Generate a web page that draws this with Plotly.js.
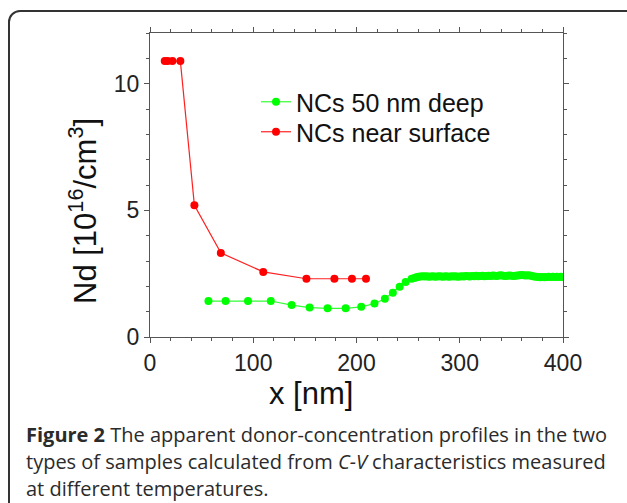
<!DOCTYPE html>
<html>
<head>
<meta charset="utf-8">
<script src="https://cdn.plot.ly/plotly-3.0.1.min.js"></script>
<style>
  html, body { margin:0; padding:0; background:#fff; overflow:hidden; width:627px; height:503px; }
  #frame { position:absolute; left:8px; top:10px; width:700px; height:600px;
           border:2px solid #333; border-radius:12px; pointer-events:none; }
  #chart { position:absolute; left:0; top:0; width:627px; height:503px; }
</style>
</head>
<body>
<div id="chart"></div>
<div id="frame"></div>
<script>
// NCs near surface
const xSurface = [14.3, 17.1, 21.7, 29.4, 43.0, 68.6, 109.7, 151.5, 178.6, 195.6, 209.2];
const ySurface = [10.89, 10.89, 10.89, 10.89, 5.20, 3.32, 2.57, 2.30, 2.30, 2.30, 2.30];

// NCs 50 nm deep
const xDeep = [56.6, 73.2, 94.9, 117.0, 137.2, 154.6, 172.0, 189.5, 204.6, 217.4, 227.5, 235.2, 241.8, 247.6, 253.4,
  256, 258, 260, 262, 264, 266, 268, 270,
  272, 274, 276, 278, 280, 282, 284, 286, 288, 290, 292, 294, 296, 298, 300,
  302, 304, 306, 308, 310, 312, 314, 316, 318, 320, 322, 324, 326, 328, 330, 332, 334, 336, 338, 340,
  342, 344, 346, 348, 350, 352, 354, 356, 358, 360, 362, 364, 366, 368, 370,
  372, 374, 376, 378, 380, 382, 384, 386, 388, 390, 392, 394, 396, 398, 400];
const yDeep = [1.42, 1.42, 1.42, 1.42, 1.26, 1.16, 1.13, 1.13, 1.19, 1.32, 1.51, 1.75, 1.98, 2.17, 2.30,
  2.33, 2.36, 2.38, 2.39, 2.40, 2.39, 2.40, 2.38,
  2.39, 2.40, 2.38, 2.39, 2.40, 2.39, 2.38, 2.40, 2.39, 2.38, 2.40, 2.39, 2.40, 2.38, 2.39,
  2.40, 2.39, 2.41, 2.40, 2.39, 2.41, 2.40, 2.42, 2.40, 2.41, 2.42, 2.40, 2.41, 2.42, 2.41, 2.43, 2.42, 2.41, 2.43, 2.44,
  2.42, 2.41, 2.42, 2.43, 2.42, 2.41, 2.42, 2.43, 2.44, 2.45, 2.44, 2.43, 2.44, 2.43, 2.41,
  2.39, 2.38, 2.37, 2.36, 2.37, 2.36, 2.37, 2.38, 2.37, 2.38, 2.37, 2.38, 2.37, 2.38, 2.37];

const xTickVals = [0, 100, 200, 300, 400];
const yTickVals = [0, 5, 10];
const captionLines = [
  "<b>Figure 2</b> The apparent donor-concentration profiles in the two",
  "types of samples calculated from <i>C-V</i> characteristics measured",
  "at different temperatures."
];

const W = 627, H = 503;
const M = {l:150, r:64, t:33, b:166};
const pw = W - M.l - M.r, ph = H - M.t - M.b;
const px = v => (v - M.l) / pw;
const py = v => (H - M.b - v) / ph;

const traces = [
  {x: xDeep, y: yDeep, name: "NCs 50 nm deep", type: "scatter", mode: "lines+markers", legend: "legend",
   line: {color: "#33ff33", width: 1.2}, marker: {color: "#00ff00", size: 8}},
  {x: xSurface, y: ySurface, name: "NCs near surface", type: "scatter", mode: "lines+markers", legend: "legend2",
   line: {color: "#ff2020", width: 1.2}, marker: {color: "#ff0000", size: 8}}
];

const axisCommon = {
  showline: true, linecolor: "#555", linewidth: 1, mirror: "ticks",
  ticks: "outside", ticklen: 5, tickcolor: "#555", tickwidth: 1,
  showgrid: false, zeroline: false,
  tickfont: {family: "Liberation Sans, Arial, sans-serif", size: 23, color: "#222"}
};

const annotations = [
  {text: "x [nm]", xref: "paper", yref: "paper", x: px(311), y: py(393), xanchor: "center", yanchor: "middle",
   showarrow: false, font: {family: "Liberation Sans, Arial, sans-serif", size: 31, color: "#111"}},
  {text: "Nd [10<sup>16</sup>/cm<sup>3</sup>]", xref: "paper", yref: "paper", x: px(83), y: py(211), textangle: -90,
   xanchor: "center", yanchor: "middle",
   showarrow: false, font: {family: "Liberation Sans, Arial, sans-serif", size: 31, color: "#111"}}
];
const capY = [434, 461, 488];
captionLines.forEach((t, i) => annotations.push({
  text: t, xref: "paper", yref: "paper", x: px(24), y: py(capY[i]), xanchor: "left", yanchor: "middle",
  showarrow: false, align: "left", font: {family: "Open Sans, sans-serif", size: 20, color: "#2b2b2b"}
}));

const legendCommon = {xanchor: "left", yanchor: "middle", bgcolor: "rgba(0,0,0,0)", itemwidth: 30,
  font: {family: "Liberation Sans, Arial, sans-serif", size: 25, color: "#111"}};

const layout = {
  width: W, height: H, margin: M,
  paper_bgcolor: "rgba(0,0,0,0)", plot_bgcolor: "rgba(0,0,0,0)",
  showlegend: true,
  legend: Object.assign({}, legendCommon, {x: px(256), y: py(102)}),
  legend2: Object.assign({}, legendCommon, {x: px(256), y: py(132)}),
  xaxis: Object.assign({}, axisCommon, {range: [0, 400], tickvals: xTickVals, ticktext: xTickVals.map(String),
           minor: {dtick: 20, tick0: 0, ticks: "outside", ticklen: 3, tickcolor: "#555"}}),
  yaxis: Object.assign({}, axisCommon, {range: [0, 12], tickvals: yTickVals, ticktext: yTickVals.map(String),
           minor: {dtick: 1, tick0: 0, ticks: "outside", ticklen: 3, tickcolor: "#555"}}),
  annotations: annotations
};

Plotly.newPlot("chart", traces, layout, {displayModeBar: false, staticPlot: true});
</script>
</body>
</html>
